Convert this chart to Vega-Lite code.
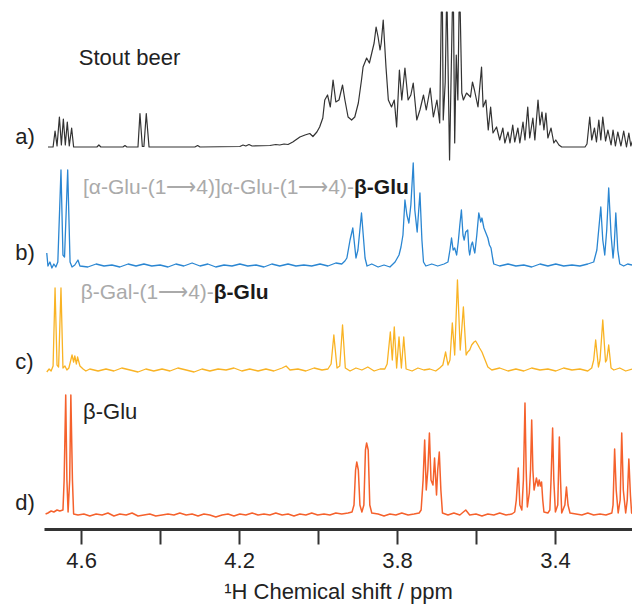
{
  "$schema": "https://vega.github.io/schema/vega-lite/v6.json",
  "width": 588,
  "height": 529,
  "autosize": "none",
  "padding": {"left": 44, "top": 0, "right": 0, "bottom": 81},
  "config": {"view": {"stroke": null}, "font": "Liberation Sans"},
  "datasets": {
    "stout": [
      {"ppm":4.684,"intensity":0},{"ppm":4.671,"intensity":0},{"ppm":4.666,"intensity":16},{"ppm":4.661,"intensity":1},{"ppm":4.655,"intensity":30},{"ppm":4.650,"intensity":2},{"ppm":4.645,"intensity":28},{"ppm":4.640,"intensity":2},{"ppm":4.635,"intensity":25},{"ppm":4.630,"intensity":1},{"ppm":4.624,"intensity":19},{"ppm":4.619,"intensity":0},
      {"ppm":4.560,"intensity":0},{"ppm":4.555,"intensity":2},{"ppm":4.550,"intensity":0},{"ppm":4.494,"intensity":0},{"ppm":4.489,"intensity":1.5},{"ppm":4.484,"intensity":0},
      {"ppm":4.456,"intensity":0},{"ppm":4.451,"intensity":33.5},{"ppm":4.445,"intensity":0.5},{"ppm":4.441,"intensity":0.5},{"ppm":4.435,"intensity":33.5},{"ppm":4.428,"intensity":0},
      {"ppm":4.312,"intensity":0},{"ppm":4.305,"intensity":1.5},{"ppm":4.299,"intensity":0},{"ppm":4.198,"intensity":0.5},{"ppm":4.190,"intensity":2},{"ppm":4.183,"intensity":1},{"ppm":4.175,"intensity":2.5},{"ppm":4.167,"intensity":1},
      {"ppm":4.122,"intensity":1.5},{"ppm":4.107,"intensity":2.5},{"ppm":4.097,"intensity":2},{"ppm":4.086,"intensity":3},{"ppm":4.076,"intensity":2.5},{"ppm":4.064,"intensity":5},{"ppm":4.046,"intensity":10},{"ppm":4.033,"intensity":12},{"ppm":4.021,"intensity":13.5},{"ppm":4.013,"intensity":10.5},{"ppm":4.003,"intensity":15},{"ppm":3.996,"intensity":20},
      {"ppm":3.988,"intensity":29},{"ppm":3.983,"intensity":47},{"ppm":3.976,"intensity":52},{"ppm":3.969,"intensity":40},{"ppm":3.962,"intensity":67},{"ppm":3.955,"intensity":45},{"ppm":3.947,"intensity":47},{"ppm":3.938,"intensity":62},{"ppm":3.932,"intensity":47},{"ppm":3.924,"intensity":30},{"ppm":3.915,"intensity":27},{"ppm":3.907,"intensity":30},
      {"ppm":3.898,"intensity":44},{"ppm":3.890,"intensity":67},{"ppm":3.886,"intensity":80},{"ppm":3.877,"intensity":89},{"ppm":3.870,"intensity":84},{"ppm":3.864,"intensity":94},{"ppm":3.858,"intensity":104},{"ppm":3.853,"intensity":120},{"ppm":3.848,"intensity":110},{"ppm":3.843,"intensity":97},{"ppm":3.840,"intensity":104},{"ppm":3.835,"intensity":127},
      {"ppm":3.828,"intensity":80},{"ppm":3.822,"intensity":47},{"ppm":3.814,"intensity":40},{"ppm":3.807,"intensity":47},{"ppm":3.801,"intensity":20},{"ppm":3.794,"intensity":77},{"ppm":3.788,"intensity":47},{"ppm":3.780,"intensity":79},{"ppm":3.772,"intensity":47},{"ppm":3.765,"intensity":52},{"ppm":3.759,"intensity":64},{"ppm":3.750,"intensity":27},
      {"ppm":3.742,"intensity":37},{"ppm":3.733,"intensity":52},{"ppm":3.726,"intensity":37},{"ppm":3.716,"intensity":59},{"ppm":3.708,"intensity":30},{"ppm":3.699,"intensity":47},{"ppm":3.692,"intensity":24},{"ppm":3.688,"intensity":135},{"ppm":3.685,"intensity":135},{"ppm":3.683,"intensity":27},{"ppm":3.678,"intensity":65},{"ppm":3.675,"intensity":135},{"ppm":3.673,"intensity":135},
      {"ppm":3.667,"intensity":-13},{"ppm":3.660,"intensity":135},{"ppm":3.657,"intensity":135},{"ppm":3.654,"intensity":4},{"ppm":3.650,"intensity":92},{"ppm":3.646,"intensity":47},{"ppm":3.643,"intensity":135},{"ppm":3.640,"intensity":135},{"ppm":3.636,"intensity":54},{"ppm":3.632,"intensity":47},{"ppm":3.624,"intensity":54},
      {"ppm":3.614,"intensity":50},{"ppm":3.609,"intensity":65},{"ppm":3.604,"intensity":57},{"ppm":3.595,"intensity":40},{"ppm":3.586,"intensity":80},{"ppm":3.582,"intensity":40},{"ppm":3.575,"intensity":47},{"ppm":3.569,"intensity":17},{"ppm":3.563,"intensity":40},{"ppm":3.557,"intensity":14},{"ppm":3.548,"intensity":20},{"ppm":3.540,"intensity":7},
      {"ppm":3.532,"intensity":19},{"ppm":3.527,"intensity":4},{"ppm":3.519,"intensity":15},{"ppm":3.514,"intensity":4},{"ppm":3.507,"intensity":22},{"ppm":3.502,"intensity":5},{"ppm":3.494,"intensity":19},{"ppm":3.489,"intensity":4},{"ppm":3.481,"intensity":25},{"ppm":3.476,"intensity":7},{"ppm":3.469,"intensity":40},{"ppm":3.464,"intensity":9},
      {"ppm":3.456,"intensity":29},{"ppm":3.451,"intensity":7},{"ppm":3.443,"intensity":47},{"ppm":3.438,"intensity":22},{"ppm":3.433,"intensity":35},{"ppm":3.428,"intensity":17},{"ppm":3.423,"intensity":34},{"ppm":3.418,"intensity":9},{"ppm":3.410,"intensity":19},{"ppm":3.403,"intensity":4},{"ppm":3.398,"intensity":7},{"ppm":3.390,"intensity":2},{"ppm":3.383,"intensity":0},
      {"ppm":3.324,"intensity":0},{"ppm":3.319,"intensity":3},{"ppm":3.312,"intensity":30},{"ppm":3.307,"intensity":7},{"ppm":3.300,"intensity":19},{"ppm":3.295,"intensity":5},{"ppm":3.289,"intensity":27},{"ppm":3.284,"intensity":7},{"ppm":3.279,"intensity":30},{"ppm":3.272,"intensity":6},{"ppm":3.266,"intensity":17},{"ppm":3.258,"intensity":2},
      {"ppm":3.253,"intensity":17},{"ppm":3.247,"intensity":1},{"ppm":3.241,"intensity":15},{"ppm":3.233,"intensity":1},{"ppm":3.226,"intensity":16},{"ppm":3.219,"intensity":0},{"ppm":3.213,"intensity":14},{"ppm":3.208,"intensity":1},{"ppm":3.203,"intensity":7}
    ],
    "maltotriose": [
      {"ppm":4.687,"intensity":12},{"ppm":4.684,"intensity":-1},{"ppm":4.679,"intensity":3},{"ppm":4.674,"intensity":-3},{"ppm":4.669,"intensity":1},{"ppm":4.664,"intensity":-2},{"ppm":4.659,"intensity":3},{"ppm":4.651,"intensity":95},{"ppm":4.646,"intensity":10},{"ppm":4.642,"intensity":8},{"ppm":4.634,"intensity":95},{"ppm":4.628,"intensity":3},{"ppm":4.623,"intensity":-2},{"ppm":4.616,"intensity":0},{"ppm":4.608,"intensity":5},{"ppm":4.603,"intensity":-1},
      {"ppm":4.583,"intensity":-2},{"ppm":4.562,"intensity":1},{"ppm":4.542,"intensity":-1},{"ppm":4.522,"intensity":0},{"ppm":4.502,"intensity":-2},{"ppm":4.481,"intensity":1},{"ppm":4.461,"intensity":-1},{"ppm":4.441,"intensity":1},{"ppm":4.421,"intensity":-1},{"ppm":4.400,"intensity":0},{"ppm":4.380,"intensity":-2},{"ppm":4.360,"intensity":1},{"ppm":4.340,"intensity":-1},{"ppm":4.319,"intensity":2},{"ppm":4.299,"intensity":-1},
      {"ppm":4.279,"intensity":1},{"ppm":4.259,"intensity":-2},{"ppm":4.238,"intensity":0},{"ppm":4.218,"intensity":-1},{"ppm":4.198,"intensity":1},{"ppm":4.178,"intensity":-1},{"ppm":4.157,"intensity":0},{"ppm":4.137,"intensity":-2},{"ppm":4.117,"intensity":1},{"ppm":4.097,"intensity":-1},{"ppm":4.076,"intensity":1},{"ppm":4.056,"intensity":-1},{"ppm":4.036,"intensity":0},{"ppm":4.016,"intensity":-1},{"ppm":3.995,"intensity":1},{"ppm":3.975,"intensity":-1},{"ppm":3.955,"intensity":2},
      {"ppm":3.940,"intensity":1},{"ppm":3.932,"intensity":4},{"ppm":3.927,"intensity":7},{"ppm":3.919,"intensity":25},{"ppm":3.912,"intensity":37},{"ppm":3.904,"intensity":7},{"ppm":3.899,"intensity":15},{"ppm":3.890,"intensity":52},{"ppm":3.881,"intensity":7},{"ppm":3.876,"intensity":-1},{"ppm":3.864,"intensity":1},{"ppm":3.848,"intensity":-2},{"ppm":3.833,"intensity":0},{"ppm":3.818,"intensity":-2},
      {"ppm":3.805,"intensity":3},{"ppm":3.795,"intensity":10},{"ppm":3.790,"intensity":18},{"ppm":3.785,"intensity":30},{"ppm":3.780,"intensity":65},{"ppm":3.775,"intensity":50},{"ppm":3.770,"intensity":42},{"ppm":3.765,"intensity":60},{"ppm":3.759,"intensity":102},{"ppm":3.755,"intensity":55},{"ppm":3.749,"intensity":33},{"ppm":3.746,"intensity":50},{"ppm":3.742,"intensity":72},{"ppm":3.737,"intensity":25},{"ppm":3.733,"intensity":3},
      {"ppm":3.727,"intensity":-1},{"ppm":3.712,"intensity":1},{"ppm":3.697,"intensity":-1},{"ppm":3.681,"intensity":1},{"ppm":3.671,"intensity":3},{"ppm":3.666,"intensity":15},{"ppm":3.662,"intensity":27},{"ppm":3.658,"intensity":15},{"ppm":3.654,"intensity":17},{"ppm":3.649,"intensity":10},{"ppm":3.645,"intensity":23},{"ppm":3.641,"intensity":40},{"ppm":3.637,"intensity":55},{"ppm":3.633,"intensity":30},{"ppm":3.630,"intensity":25},{"ppm":3.626,"intensity":33},{"ppm":3.621,"intensity":35},
      {"ppm":3.618,"intensity":15},{"ppm":3.616,"intensity":10},{"ppm":3.612,"intensity":20},{"ppm":3.609,"intensity":23},{"ppm":3.605,"intensity":15},{"ppm":3.603,"intensity":12},{"ppm":3.598,"intensity":30},{"ppm":3.593,"intensity":52},{"ppm":3.588,"intensity":43},{"ppm":3.585,"intensity":47},{"ppm":3.580,"intensity":37},{"ppm":3.575,"intensity":32},{"ppm":3.570,"intensity":27},{"ppm":3.566,"intensity":20},{"ppm":3.562,"intensity":17},{"ppm":3.558,"intensity":7},{"ppm":3.555,"intensity":1},
      {"ppm":3.540,"intensity":-1},{"ppm":3.519,"intensity":1},{"ppm":3.499,"intensity":-1},{"ppm":3.479,"intensity":0},{"ppm":3.459,"intensity":-2},{"ppm":3.438,"intensity":1},{"ppm":3.418,"intensity":-1},{"ppm":3.398,"intensity":1},{"ppm":3.378,"intensity":-1},{"ppm":3.357,"intensity":0},{"ppm":3.337,"intensity":-1},{"ppm":3.317,"intensity":1},{"ppm":3.302,"intensity":3},
      {"ppm":3.294,"intensity":15},{"ppm":3.284,"intensity":58},{"ppm":3.279,"intensity":25},{"ppm":3.274,"intensity":10},{"ppm":3.269,"intensity":35},{"ppm":3.264,"intensity":77},{"ppm":3.258,"intensity":30},{"ppm":3.253,"intensity":7},{"ppm":3.250,"intensity":20},{"ppm":3.246,"intensity":52},{"ppm":3.241,"intensity":15},{"ppm":3.236,"intensity":1},{"ppm":3.226,"intensity":-1},{"ppm":3.216,"intensity":1},{"ppm":3.205,"intensity":0}
    ],
    "lactose": [
      {"ppm":4.687,"intensity":-2},{"ppm":4.681,"intensity":1},{"ppm":4.676,"intensity":-1},{"ppm":4.671,"intensity":4},{"ppm":4.666,"intensity":82},{"ppm":4.661,"intensity":5},{"ppm":4.657,"intensity":3},{"ppm":4.651,"intensity":82},{"ppm":4.646,"intensity":2},{"ppm":4.641,"intensity":4},{"ppm":4.636,"intensity":0},{"ppm":4.631,"intensity":2},
      {"ppm":4.623,"intensity":15},{"ppm":4.619,"intensity":8},{"ppm":4.616,"intensity":14},{"ppm":4.612,"intensity":6},{"ppm":4.609,"intensity":13},{"ppm":4.603,"intensity":4},{"ppm":4.595,"intensity":1},{"ppm":4.588,"intensity":-1},{"ppm":4.578,"intensity":1},
      {"ppm":4.557,"intensity":-1},{"ppm":4.537,"intensity":1},{"ppm":4.517,"intensity":-1},{"ppm":4.497,"intensity":2},{"ppm":4.476,"intensity":0},{"ppm":4.456,"intensity":-2},{"ppm":4.436,"intensity":1},{"ppm":4.416,"intensity":-1},{"ppm":4.395,"intensity":1},{"ppm":4.375,"intensity":-1},{"ppm":4.355,"intensity":2},{"ppm":4.334,"intensity":0},{"ppm":4.314,"intensity":-2},
      {"ppm":4.294,"intensity":1},{"ppm":4.274,"intensity":-1},{"ppm":4.253,"intensity":1},{"ppm":4.233,"intensity":0},{"ppm":4.213,"intensity":2},{"ppm":4.193,"intensity":-1},{"ppm":4.173,"intensity":1},{"ppm":4.152,"intensity":-1},{"ppm":4.132,"intensity":1},{"ppm":4.112,"intensity":-1},{"ppm":4.091,"intensity":2},{"ppm":4.081,"intensity":4},{"ppm":4.071,"intensity":0},
      {"ppm":4.051,"intensity":1},{"ppm":4.031,"intensity":-1},{"ppm":4.010,"intensity":2},{"ppm":3.990,"intensity":0},{"ppm":3.975,"intensity":1},{"ppm":3.967,"intensity":6},{"ppm":3.960,"intensity":35},{"ppm":3.952,"intensity":2},{"ppm":3.945,"intensity":4},{"ppm":3.938,"intensity":45},{"ppm":3.931,"intensity":2},
      {"ppm":3.919,"intensity":-1},{"ppm":3.904,"intensity":2},{"ppm":3.889,"intensity":0},{"ppm":3.874,"intensity":3},{"ppm":3.858,"intensity":-1},{"ppm":3.843,"intensity":1},{"ppm":3.831,"intensity":1},{"ppm":3.825,"intensity":6},{"ppm":3.817,"intensity":38},{"ppm":3.812,"intensity":10},{"ppm":3.807,"intensity":43},{"ppm":3.801,"intensity":2},{"ppm":3.795,"intensity":33},{"ppm":3.789,"intensity":2},{"ppm":3.783,"intensity":33},{"ppm":3.777,"intensity":1},
      {"ppm":3.762,"intensity":-1},{"ppm":3.747,"intensity":2},{"ppm":3.732,"intensity":0},{"ppm":3.717,"intensity":1},{"ppm":3.702,"intensity":-1},{"ppm":3.692,"intensity":2},{"ppm":3.684,"intensity":5},{"ppm":3.677,"intensity":18},{"ppm":3.671,"intensity":5},{"ppm":3.666,"intensity":10},{"ppm":3.660,"intensity":47},{"ppm":3.654,"intensity":15},{"ppm":3.647,"intensity":90},{"ppm":3.640,"intensity":20},{"ppm":3.632,"intensity":63},
      {"ppm":3.625,"intensity":15},{"ppm":3.621,"intensity":18},{"ppm":3.616,"intensity":20},{"ppm":3.611,"intensity":25},{"ppm":3.605,"intensity":28},{"ppm":3.601,"intensity":29},{"ppm":3.595,"intensity":25},{"ppm":3.591,"intensity":22},{"ppm":3.585,"intensity":18},{"ppm":3.580,"intensity":13},{"ppm":3.575,"intensity":8},{"ppm":3.570,"intensity":3},{"ppm":3.560,"intensity":0},
      {"ppm":3.540,"intensity":2},{"ppm":3.519,"intensity":-1},{"ppm":3.499,"intensity":1},{"ppm":3.479,"intensity":-1},{"ppm":3.459,"intensity":2},{"ppm":3.438,"intensity":0},{"ppm":3.418,"intensity":1},{"ppm":3.398,"intensity":-1},{"ppm":3.378,"intensity":2},{"ppm":3.357,"intensity":0},{"ppm":3.337,"intensity":1},{"ppm":3.317,"intensity":-1},{"ppm":3.307,"intensity":2},
      {"ppm":3.302,"intensity":10},{"ppm":3.297,"intensity":30},{"ppm":3.290,"intensity":3},{"ppm":3.286,"intensity":10},{"ppm":3.279,"intensity":50},{"ppm":3.272,"intensity":8},{"ppm":3.269,"intensity":10},{"ppm":3.264,"intensity":25},{"ppm":3.258,"intensity":2},{"ppm":3.251,"intensity":0},{"ppm":3.236,"intensity":2},{"ppm":3.221,"intensity":-1},{"ppm":3.205,"intensity":1}
    ],
    "glucose": [
      {"ppm":4.690,"intensity":-1},{"ppm":4.684,"intensity":0},{"ppm":4.676,"intensity":2},{"ppm":4.669,"intensity":1},{"ppm":4.661,"intensity":3},{"ppm":4.654,"intensity":2},{"ppm":4.646,"intensity":3},{"ppm":4.643,"intensity":33},{"ppm":4.639,"intensity":118},{"ppm":4.636,"intensity":33},{"ppm":4.633,"intensity":1},{"ppm":4.629,"intensity":33},{"ppm":4.626,"intensity":118},{"ppm":4.622,"intensity":33},{"ppm":4.619,"intensity":-1},
      {"ppm":4.608,"intensity":-2},{"ppm":4.593,"intensity":-1},{"ppm":4.578,"intensity":-3},{"ppm":4.562,"intensity":-1},{"ppm":4.547,"intensity":-2},{"ppm":4.532,"intensity":0},{"ppm":4.517,"intensity":-3},{"ppm":4.502,"intensity":-1},{"ppm":4.486,"intensity":-2},{"ppm":4.471,"intensity":0},{"ppm":4.456,"intensity":-3},{"ppm":4.441,"intensity":-2},{"ppm":4.426,"intensity":-1},{"ppm":4.411,"intensity":-3},{"ppm":4.395,"intensity":-2},
      {"ppm":4.380,"intensity":-1},{"ppm":4.365,"intensity":-2},{"ppm":4.350,"intensity":0},{"ppm":4.334,"intensity":-2},{"ppm":4.319,"intensity":-1},{"ppm":4.304,"intensity":-3},{"ppm":4.289,"intensity":-1},{"ppm":4.274,"intensity":-2},{"ppm":4.259,"intensity":-4},{"ppm":4.243,"intensity":-2},{"ppm":4.228,"intensity":-1},{"ppm":4.213,"intensity":-3},{"ppm":4.198,"intensity":-1},{"ppm":4.183,"intensity":-2},{"ppm":4.167,"intensity":0},
      {"ppm":4.152,"intensity":-2},{"ppm":4.137,"intensity":-1},{"ppm":4.122,"intensity":-2},{"ppm":4.107,"intensity":0},{"ppm":4.091,"intensity":-2},{"ppm":4.076,"intensity":-1},{"ppm":4.061,"intensity":-3},{"ppm":4.046,"intensity":-1},{"ppm":4.031,"intensity":-2},{"ppm":4.016,"intensity":0},{"ppm":4.001,"intensity":-2},{"ppm":3.985,"intensity":-1},{"ppm":3.970,"intensity":-2},{"ppm":3.955,"intensity":0},{"ppm":3.940,"intensity":-1},{"ppm":3.924,"intensity":0},
      {"ppm":3.914,"intensity":1},{"ppm":3.909,"intensity":8},{"ppm":3.905,"intensity":43},{"ppm":3.902,"intensity":51},{"ppm":3.898,"intensity":43},{"ppm":3.894,"intensity":8},{"ppm":3.889,"intensity":1},{"ppm":3.884,"intensity":8},{"ppm":3.880,"intensity":63},{"ppm":3.877,"intensity":70},{"ppm":3.873,"intensity":63},{"ppm":3.869,"intensity":8},{"ppm":3.864,"intensity":0},
      {"ppm":3.848,"intensity":-1},{"ppm":3.833,"intensity":-3},{"ppm":3.818,"intensity":-1},{"ppm":3.803,"intensity":-2},{"ppm":3.788,"intensity":0},{"ppm":3.772,"intensity":-2},{"ppm":3.757,"intensity":-1},{"ppm":3.744,"intensity":0},{"ppm":3.739,"intensity":3},{"ppm":3.734,"intensity":33},{"ppm":3.730,"intensity":73},{"ppm":3.726,"intensity":23},{"ppm":3.722,"intensity":43},{"ppm":3.718,"intensity":80},{"ppm":3.714,"intensity":33},
      {"ppm":3.709,"intensity":28},{"ppm":3.705,"intensity":55},{"ppm":3.700,"intensity":18},{"ppm":3.697,"intensity":43},{"ppm":3.693,"intensity":61},{"ppm":3.689,"intensity":23},{"ppm":3.685,"intensity":0},{"ppm":3.671,"intensity":-2},{"ppm":3.656,"intensity":0},{"ppm":3.641,"intensity":-2},{"ppm":3.626,"intensity":3},{"ppm":3.616,"intensity":-2},{"ppm":3.600,"intensity":-1},{"ppm":3.585,"intensity":-3},{"ppm":3.570,"intensity":-1},{"ppm":3.555,"intensity":-2},
      {"ppm":3.540,"intensity":0},{"ppm":3.524,"intensity":-2},{"ppm":3.509,"intensity":-1},{"ppm":3.502,"intensity":1},{"ppm":3.498,"intensity":13},{"ppm":3.493,"intensity":45},{"ppm":3.489,"intensity":8},{"ppm":3.484,"intensity":3},{"ppm":3.480,"intensity":33},{"ppm":3.476,"intensity":110},{"ppm":3.473,"intensity":43},{"ppm":3.470,"intensity":6},{"ppm":3.465,"intensity":20},{"ppm":3.462,"intensity":43},{"ppm":3.459,"intensity":93},{"ppm":3.456,"intensity":43},{"ppm":3.453,"intensity":23},
      {"ppm":3.447,"intensity":35},{"ppm":3.443,"intensity":27},{"ppm":3.440,"intensity":33},{"ppm":3.437,"intensity":27},{"ppm":3.434,"intensity":31},{"ppm":3.431,"intensity":13},{"ppm":3.428,"intensity":1},{"ppm":3.418,"intensity":0},{"ppm":3.413,"intensity":3},{"ppm":3.410,"intensity":33},{"ppm":3.406,"intensity":85},{"ppm":3.403,"intensity":33},{"ppm":3.399,"intensity":1},
      {"ppm":3.393,"intensity":8},{"ppm":3.389,"intensity":76},{"ppm":3.386,"intensity":33},{"ppm":3.383,"intensity":0},{"ppm":3.375,"intensity":8},{"ppm":3.371,"intensity":26},{"ppm":3.367,"intensity":8},{"ppm":3.362,"intensity":0},{"ppm":3.347,"intensity":-1},{"ppm":3.332,"intensity":-2},{"ppm":3.317,"intensity":0},{"ppm":3.302,"intensity":-2},{"ppm":3.286,"intensity":-1},{"ppm":3.271,"intensity":-2},
      {"ppm":3.256,"intensity":0},{"ppm":3.253,"intensity":8},{"ppm":3.249,"intensity":64},{"ppm":3.245,"intensity":23},{"ppm":3.240,"intensity":0},{"ppm":3.235,"intensity":13},{"ppm":3.231,"intensity":80},{"ppm":3.227,"intensity":23},{"ppm":3.221,"intensity":0},{"ppm":3.217,"intensity":13},{"ppm":3.213,"intensity":54},{"ppm":3.209,"intensity":18},{"ppm":3.206,"intensity":0},{"ppm":3.203,"intensity":-1}
    ]
  },
  "encoding": {
    "x": {
      "field": "ppm",
      "type": "quantitative",
      "scale": {"domain": [3.205, 4.694], "reverse": true, "nice": false, "zero": false},
      "axis": {
        "values": [4.6, 4.4, 4.2, 4.0, 3.8, 3.6, 3.4],
        "labelExpr": "indexof(['4.6','4.2','3.8','3.4'], format(datum.value, '.1f')) >= 0 ? format(datum.value, '.1f') : ''",
        "labelOverlap": false,
        "labelBound": false,
        "labelFlush": false,
        "grid": false,
        "domainColor": "#333333",
        "domainWidth": 3,
        "tickColor": "#333333",
        "tickWidth": 2,
        "tickSize": 15,
        "labelFont": "Liberation Sans",
        "labelFontSize": 22,
        "labelColor": "#222222",
        "labelPadding": 6,
        "title": "¹H Chemical shift / ppm",
        "titleFont": "Liberation Sans",
        "titleFontSize": 22,
        "titleFontWeight": "normal",
        "titleColor": "#222222",
        "titlePadding": 10
      }
    }
  },
  "layer": [
    {
      "encoding": {"y": {"field": "intensity", "type": "quantitative", "scale": {"domain": [-382, 147], "nice": false, "zero": false}, "axis": null}},
      "layer": [
        {"data": {"name": "stout"}, "mark": {"type": "line", "color": "#333333", "strokeWidth": 1.2, "strokeJoin": "round"}},
        {
          "data": {"values": [{"ppm": 4.767, "intensity": 10, "label": "a)"}, {"ppm": 4.606, "intensity": 89, "label": "Stout beer"}]},
          "mark": {"type": "text", "align": "left", "baseline": "middle", "font": "Liberation Sans", "fontSize": 22, "color": "#222222"},
          "encoding": {"text": {"field": "label"}}
        }
      ]
    },
    {
      "encoding": {"y": {"field": "intensity", "type": "quantitative", "scale": {"domain": [-264, 265], "nice": false, "zero": false}, "axis": null}},
      "layer": [
        {"data": {"name": "maltotriose"}, "mark": {"type": "line", "color": "#2a86d2", "strokeWidth": 1.3, "strokeJoin": "round"}},
        {
          "data": {"values": [{"ppm": 4.767, "intensity": 12, "label": "b)"}]},
          "mark": {"type": "text", "align": "left", "baseline": "middle", "font": "Liberation Sans", "fontSize": 22, "color": "#222222"},
          "encoding": {"text": {"field": "label"}}
        },
        {
          "data": {"values": [{"ppm": 3.909, "intensity": 77, "label": "[α-Glu-(1⟶4)]α-Glu-(1⟶4)-"}]},
          "mark": {"type": "text", "align": "right", "baseline": "middle", "font": "Liberation Sans", "fontSize": 21, "color": "#aaaaaa"},
          "encoding": {"text": {"field": "label"}}
        },
        {
          "data": {"values": [{"ppm": 3.909, "intensity": 77, "label": "β-Glu"}]},
          "mark": {"type": "text", "align": "left", "baseline": "middle", "font": "Liberation Sans", "fontSize": 21, "fontWeight": "bold", "color": "#1a1a1a"},
          "encoding": {"text": {"field": "label"}}
        }
      ]
    },
    {
      "encoding": {"y": {"field": "intensity", "type": "quantitative", "scale": {"domain": [-159, 370], "nice": false, "zero": false}, "axis": null}},
      "layer": [
        {"data": {"name": "lactose"}, "mark": {"type": "line", "color": "#f9b324", "strokeWidth": 1.3, "strokeJoin": "round"}},
        {
          "data": {"values": [{"ppm": 4.767, "intensity": 8, "label": "c)"}]},
          "mark": {"type": "text", "align": "left", "baseline": "middle", "font": "Liberation Sans", "fontSize": 22, "color": "#222222"},
          "encoding": {"text": {"field": "label"}}
        },
        {
          "data": {"values": [{"ppm": 4.264, "intensity": 77, "label": "β-Gal-(1⟶4)-"}]},
          "mark": {"type": "text", "align": "right", "baseline": "middle", "font": "Liberation Sans", "fontSize": 21, "color": "#aaaaaa"},
          "encoding": {"text": {"field": "label"}}
        },
        {
          "data": {"values": [{"ppm": 4.264, "intensity": 77, "label": "β-Glu"}]},
          "mark": {"type": "text", "align": "left", "baseline": "middle", "font": "Liberation Sans", "fontSize": 21, "fontWeight": "bold", "color": "#1a1a1a"},
          "encoding": {"text": {"field": "label"}}
        }
      ]
    },
    {
      "encoding": {"y": {"field": "intensity", "type": "quantitative", "scale": {"domain": [-16, 513], "nice": false, "zero": false}, "axis": null}},
      "layer": [
        {"data": {"name": "glucose"}, "mark": {"type": "line", "color": "#f5612c", "strokeWidth": 1.5, "strokeJoin": "round"}},
        {
          "data": {"values": [{"ppm": 4.767, "intensity": 10, "label": "d)"}, {"ppm": 4.595, "intensity": 101, "label": "β-Glu"}]},
          "mark": {"type": "text", "align": "left", "baseline": "middle", "font": "Liberation Sans", "fontSize": 22, "color": "#222222"},
          "encoding": {"text": {"field": "label"}}
        }
      ]
    }
  ],
  "resolve": {"scale": {"y": "independent"}}
}
